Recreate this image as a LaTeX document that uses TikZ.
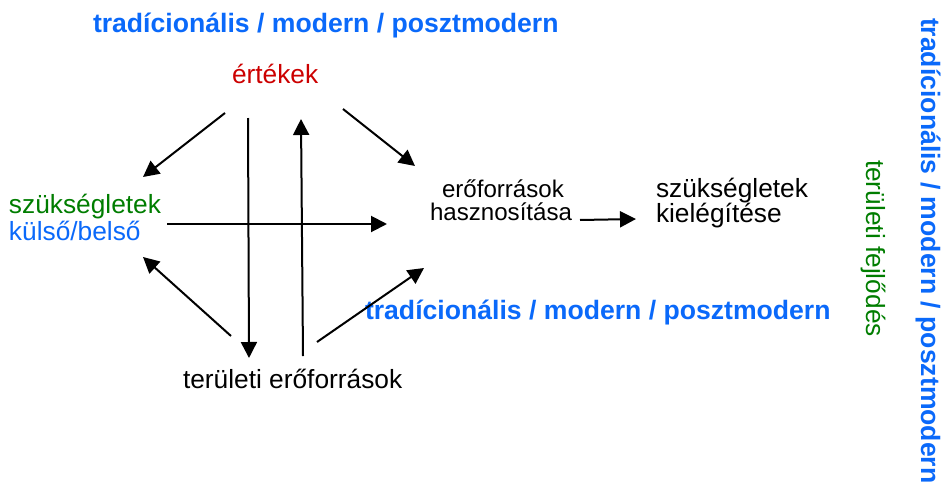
\documentclass[tikz,border=0pt]{standalone}
\usepackage{fontspec}
\setmainfont{Liberation Sans}
\usetikzlibrary{arrows.meta}
\definecolor{tblue}{RGB}{10,105,250}
\definecolor{tred}{RGB}{204,0,0}
\definecolor{tgreen}{RGB}{0,125,0}
\tikzset{
  lbl/.style={inner sep=0pt, outer sep=0pt, anchor=base west, font=\fontsize{26.3}{30}\selectfont},
  small/.style={lbl, font=\fontsize{24.1}{28}\selectfont},
  bigblue/.style={lbl, text=tblue, font=\fontsize{26.6}{30}\selectfont\bfseries},
  conn/.style={line width=2pt, -{Triangle[length=16pt,width=16pt]}}
}
\begin{document}
\begin{tikzpicture}[x=1pt,y=-1pt]
\useasboundingbox (0,0) rectangle (943,482);
% texts
\node[bigblue] (title1) at (93,32) {tradícionális / modern / posztmodern};
\node[lbl, text=tred] (ertekek) at (232,83) {értékek};
\node[lbl, text=tgreen] (szuk) at (9,213) {szükségletek};
\node[lbl, text=tblue] (kulso) at (9,240) {külső/belső};
\node[small] (erof1) at (442,197) {erőforrások};
\node[small] (erof2) at (430,220) {hasznosítása};
\node[lbl] (kiel1) at (656,197) {szükségletek};
\node[lbl] (kiel2) at (656,222) {kielégítése};
\node[bigblue] (title2) at (365,319) {tradícionális / modern / posztmodern};
\node[lbl] (terul) at (183,388) {területi erőforrások};
\node[lbl, text=tgreen, rotate=-90] (fejl) at (866,160) {területi fejlődés};
\node[bigblue, rotate=-90] (title3) at (921,18) {tradícionális / modern / posztmodern};
% connector ends
\coordinate (a1s) at (225,113); \coordinate (a1e) at (143,177);
\coordinate (a2s) at (248,118); \coordinate (a2e) at (249,358);
\coordinate (a3s) at (303,356); \coordinate (a3e) at (301,119);
\coordinate (a4s) at (343,109); \coordinate (a4e) at (415,166);
\coordinate (a5s) at (231,336); \coordinate (a5e) at (143,257);
\coordinate (a6s) at (317,342); \coordinate (a6e) at (424,268);
\coordinate (a7s) at (167,224); \coordinate (a7e) at (387,224);
\coordinate (a8s) at (580,220); \coordinate (a8e) at (636,219);
% connectors
\draw[conn] (a1s) -- (a1e);
\draw[conn] (a2s) -- (a2e);
\draw[conn] (a3s) -- (a3e);
\draw[conn] (a4s) -- (a4e);
\draw[conn] (a5s) -- (a5e);
\draw[conn] (a6s) -- (a6e);
\draw[conn] (a7s) -- (a7e);
\draw[conn] (a8s) -- (a8e);
\end{tikzpicture}
\end{document}
